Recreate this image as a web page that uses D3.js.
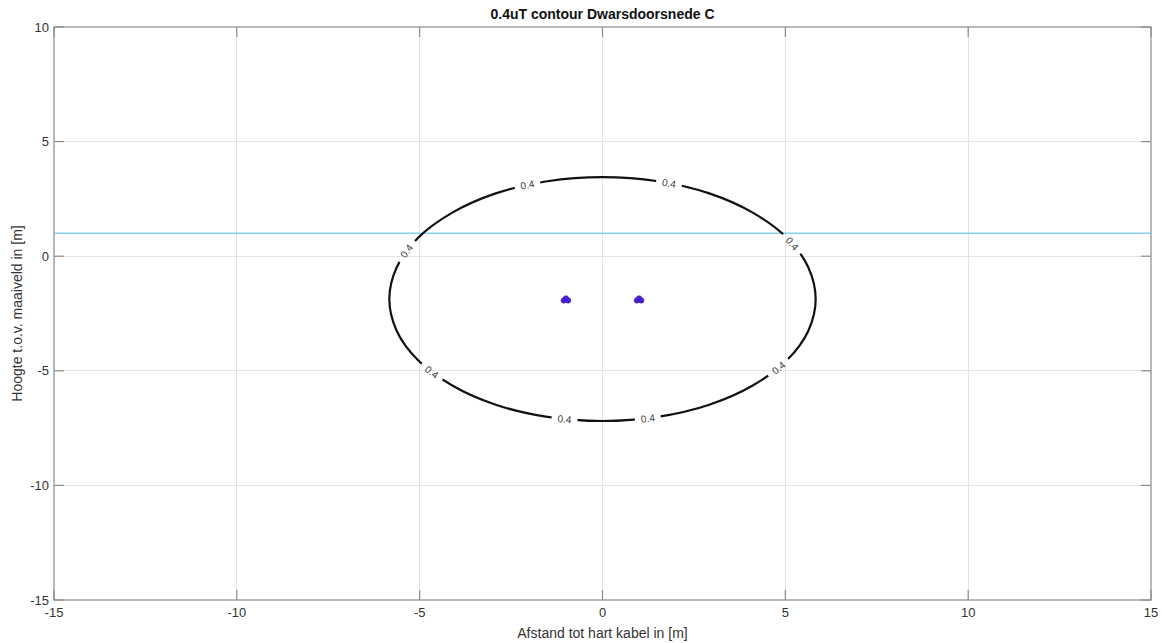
<!DOCTYPE html>
<html>
<head>
<meta charset="utf-8">
<script src="https://cdn.jsdelivr.net/npm/d3@7"></script>
<style>
  html, body { margin: 0; padding: 0; background: #fff; }
  svg { display: block; font-family: "Liberation Sans", Arial, Helvetica, sans-serif; }
</style>
</head>
<body>
<svg id="chart" width="1164" height="643"></svg>
<script>
// ---------------- data ----------------
const title = "0.4uT contour Dwarsdoorsnede C";
const xLabel = "Afstand tot hart kabel in [m]";
const yLabel = "Hoogte t.o.v. maaiveld in [m]";
const xTicks = [-15, -10, -5, 0, 5, 10, 15];
const yTicks = [-15, -10, -5, 0, 5, 10];
const xDomain = [-15, 15];
const yDomain = [-15, 10];
const groundLevel = 1;            // light-blue horizontal line
const contourLevel = "0.4";
// 0.4 uT contour (x, y in m)
const contourX = [5.83, 5.63, 5.05, 4.12, 2.92, 1.51, 0, -1.51, -2.92, -4.12, -5.05, -5.63,
                  -5.83, -5.63, -5.05, -4.12, -2.92, -1.51, 0, 1.51, 2.92, 4.12, 5.05, 5.63];
const contourY = [-1.87, -0.49, 0.79, 1.89, 2.74, 3.27, 3.45, 3.27, 2.74, 1.89, 0.79, -0.49,
                  -1.87, -3.25, -4.53, -5.63, -6.48, -7.01, -7.19, -7.01, -6.48, -5.63, -4.53, -3.25];
// contour label positions (x, y in m)
const labelX = [-2.05, 1.82, -5.32, 5.15, -4.66, 4.83, -1.05, 1.24];
const labelY = [3.11, 3.19, 0.18, 0.49, -5.05, -4.88, -7.19, -7.15];
// cables (trefoil formations)
const cableX = [-1.06, -0.94, -1.0, 0.94, 1.06, 1.0];
const cableY = [-1.93, -1.93, -1.84, -1.93, -1.93, -1.84];

// ---------------- layout ----------------
const svg = d3.select("#chart");
const L = 54, R = 1151, T = 27, B = 600;
const x = d3.scaleLinear().domain(xDomain).range([L, R]);
const y = d3.scaleLinear().domain(yDomain).range([B, T]);
const tickLen = 10;
const gridColor = "#e3e3e3";
const axisColor = "#8a8a8a";
const textColor = "#333";

// grid
const grid = svg.append("g");
grid.selectAll("line.gx").data(xTicks.slice(1, -1)).join("line")
  .attr("x1", d => x(d)).attr("x2", d => x(d)).attr("y1", T).attr("y2", B)
  .attr("stroke", gridColor).attr("stroke-width", 1).attr("shape-rendering", "crispEdges");
grid.selectAll("line.gy").data(yTicks.slice(1, -1)).join("line")
  .attr("y1", d => y(d)).attr("y2", d => y(d)).attr("x1", L).attr("x2", R)
  .attr("stroke", gridColor).attr("stroke-width", 1).attr("shape-rendering", "crispEdges");

// ground level line
svg.append("line")
  .attr("x1", L).attr("x2", R).attr("y1", y(groundLevel)).attr("y2", y(groundLevel))
  .attr("stroke", "#86d0f2").attr("stroke-width", 1.4);

// contour path
const pts = contourX.map((d, i) => [x(d), y(contourY[i])]);
const line = d3.line().curve(d3.curveCatmullRomClosed.alpha(0.5));
const defs = svg.append("defs");
const mask = defs.append("mask").attr("id", "lblmask").attr("maskUnits", "userSpaceOnUse")
  .attr("x", 0).attr("y", 0).attr("width", 1164).attr("height", 643);
mask.append("rect").attr("x", 0).attr("y", 0).attr("width", 1164).attr("height", 643).attr("fill", "#fff");

const path = svg.append("path")
  .attr("d", line(pts))
  .attr("fill", "none").attr("stroke", "#111").attr("stroke-width", 2.2)
  .attr("mask", "url(#lblmask)");

// find label placement along path
const node = path.node();
const total = node.getTotalLength();
const samples = [];
for (let s = 0; s <= total; s += 0.5) { const p = node.getPointAtLength(s); samples.push([s, p.x, p.y]); }
const labels = labelX.map((lx, i) => {
  const px = x(lx), py = y(labelY[i]);
  let best = samples[0], bd = Infinity;
  samples.forEach(s => { const d = (s[1]-px)**2 + (s[2]-py)**2; if (d < bd) { bd = d; best = s; } });
  const a = node.getPointAtLength(Math.max(0, best[0] - 4));
  const b = node.getPointAtLength(Math.min(total, best[0] + 4));
  let ang = Math.atan2(b.y - a.y, b.x - a.x) * 180 / Math.PI;
  if (ang > 90) ang -= 180;
  if (ang < -90) ang += 180;
  return { x: best[1], y: best[2], ang };
});
labels.forEach(l => {
  mask.append("rect").attr("x", -13).attr("y", -6).attr("width", 26).attr("height", 12)
    .attr("fill", "#000").attr("transform", `translate(${l.x},${l.y}) rotate(${l.ang})`);
});
svg.append("g").selectAll("text").data(labels).join("text")
  .attr("transform", d => `translate(${d.x},${d.y}) rotate(${d.ang})`)
  .attr("text-anchor", "middle").attr("dy", "0.36em")
  .attr("font-size", 10).attr("fill", "#3a3a3a")
  .text(contourLevel);

// cables
const cables = cableX.map((d, i) => [d, cableY[i]]);
svg.append("g").selectAll("circle").data(cables).join("circle")
  .attr("cx", d => x(d[0])).attr("cy", d => y(d[1])).attr("r", 2.7)
  .attr("fill", "#4a1fd2").attr("stroke", "#3b1cc0").attr("stroke-width", 0.6);

// axes box
svg.append("rect").attr("x", L).attr("y", T).attr("width", R - L).attr("height", B - T)
  .attr("fill", "none").attr("stroke", axisColor).attr("stroke-width", 1.2);

// ticks (inward, all 4 sides)
const ticks = svg.append("g").attr("stroke", axisColor).attr("stroke-width", 1.2);
xTicks.forEach(t => {
  ticks.append("line").attr("x1", x(t)).attr("x2", x(t)).attr("y1", B).attr("y2", B - tickLen);
  ticks.append("line").attr("x1", x(t)).attr("x2", x(t)).attr("y1", T).attr("y2", T + tickLen);
});
yTicks.forEach(t => {
  ticks.append("line").attr("y1", y(t)).attr("y2", y(t)).attr("x1", L).attr("x2", L + tickLen);
  ticks.append("line").attr("y1", y(t)).attr("y2", y(t)).attr("x1", R).attr("x2", R - tickLen);
});

// tick labels
svg.append("g").selectAll("text").data(xTicks).join("text")
  .attr("x", d => x(d)).attr("y", B + 17)
  .attr("text-anchor", "middle").attr("font-size", 13).attr("fill", textColor)
  .text(d => d);
svg.append("g").selectAll("text").data(yTicks).join("text")
  .attr("x", L - 5).attr("y", d => y(d)).attr("dy", "0.35em")
  .attr("text-anchor", "end").attr("font-size", 13).attr("fill", textColor)
  .text(d => d);

// axis labels and title
svg.append("text").attr("x", (L + R) / 2).attr("y", 638)
  .attr("text-anchor", "middle").attr("font-size", 14).attr("fill", textColor).text(xLabel);
svg.append("text").attr("transform", `translate(22,${(T + B) / 2}) rotate(-90)`)
  .attr("text-anchor", "middle").attr("font-size", 14).attr("fill", textColor).text(yLabel);
svg.append("text").attr("x", (L + R) / 2).attr("y", 19)
  .attr("text-anchor", "middle").attr("font-size", 14).attr("font-weight", "bold")
  .attr("fill", "#111").text(title);
</script>
</body>
</html>
